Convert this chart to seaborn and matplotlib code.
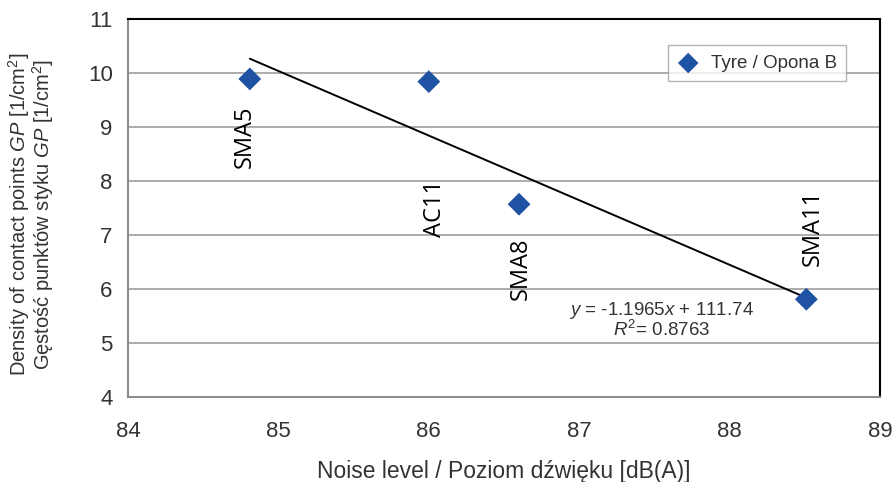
import matplotlib
matplotlib.use("Agg")
import matplotlib.pyplot as plt
import seaborn as sns
import numpy as np
import pandas as pd

# data
mixes = ["SMA5", "AC11", "SMA8", "SMA11"]
noise_level = [84.81, 86.0, 86.6, 88.51]
contact_density = [9.89, 9.84, 7.57, 5.81]
trend_slope = -1.1965
trend_intercept = 111.74
r_squared = 0.8763
x_ticks = [84, 85, 86, 87, 88, 89]
y_ticks = [4, 5, 6, 7, 8, 9, 10, 11]

df = pd.DataFrame({"mix": mixes, "noise": noise_level, "gp": contact_density})
trend_x = np.array([min(noise_level), max(noise_level)])
trend = pd.DataFrame({"noise": trend_x, "gp": trend_slope * trend_x + trend_intercept})

sns.set_style("white")
plt.rcParams["font.family"] = ["Liberation Sans", "DejaVu Sans"]
plt.rcParams["mathtext.fontset"] = "custom"
plt.rcParams["mathtext.rm"] = "Liberation Sans"
plt.rcParams["mathtext.it"] = "Liberation Sans:italic"

grey = "#8C8C8C"
text_col = "#333333"

fig = plt.figure(figsize=(8.93, 4.82), dpi=100)
ax = fig.add_axes([0.1433, 0.1763, 0.8422, 0.7843])

for y in y_ticks[1:-1]:
    ax.axhline(y, color="#A6A6A6", lw=1.3, zorder=0)

sns.lineplot(data=trend, x="noise", y="gp", color="black", lw=1.4, ax=ax,
             legend=False, zorder=2)
sns.scatterplot(data=df, x="noise", y="gp", marker="D", s=135, color="#1F52A3",
                edgecolor="none", label="Tyre / Opona B", ax=ax, zorder=3)

# rotated mix names near each point (dx, dy offsets in data units)
label_shift = {"SMA5": (-0.03, -0.50, "top"), "AC11": (0.04, -1.82, "top"),
               "SMA8": (0.01, -0.61, "top"), "SMA11": (0.04, 0.62, "bottom")}
for m, xv, yv in zip(mixes, noise_level, contact_density):
    dx, dy, va = label_shift[m]
    ax.text(xv + dx, yv + dy, m, rotation=90, ha="center", va=va,
            fontsize=17, family=["Open Sans", "DejaVu Sans"], color="black")

ax.text(87.55, 5.61, f"$y$ = {trend_slope}$x$ + {trend_intercept}", ha="center",
        va="center", fontsize=13.5, color=text_col)
ax.text(87.55, 5.24, f"$R^2$= {r_squared}", ha="center", va="center",
        fontsize=13.5, color=text_col)

ax.set_xlim(84, 89)
ax.set_ylim(4, 11)
ax.set_xticks(x_ticks)
ax.set_yticks(y_ticks)
ax.tick_params(axis="both", direction="out", length=6, width=1.2, color=grey,
               labelsize=16, labelcolor=text_col, pad=5)
ax.tick_params(axis="x", pad=11)

for side in ["left", "bottom"]:
    ax.spines[side].set_color(grey)
    ax.spines[side].set_linewidth(1.5)
for side in ["top", "right"]:
    ax.spines[side].set_color("black")
    ax.spines[side].set_linewidth(1.5)

ax.set_xlabel("Noise level / Poziom dźwięku [dB(A)]", fontsize=16.5,
              color=text_col, labelpad=13)
ax.set_ylabel("")

# two-line y title, placed as separate lines to keep tight spacing
fig.text(19 / 893, 1 - 214 / 482, "Density of contact points $\\it{GP}$ [1/cm$^2$]",
         rotation=90, ha="center", va="center", fontsize=14.5, color=text_col)
fig.text(43 / 893, 1 - 214 / 482, "Gęstość punktów styku $\\it{GP}$ [1/cm$^2$]",
         rotation=90, ha="center", va="center", fontsize=14.5, color=text_col)

leg = ax.legend(loc="upper right", bbox_to_anchor=(0.955, 0.93), fontsize=13.5,
                frameon=True, fancybox=False, borderpad=0.5, handletextpad=0.6,
                handlelength=1.2, borderaxespad=0, markerscale=0.9)
leg.get_frame().set_edgecolor("#A0A0A0")
leg.get_frame().set_linewidth(1.0)
for t in leg.get_texts():
    t.set_color(text_col)

fig.savefig("out.png", dpi=100)
